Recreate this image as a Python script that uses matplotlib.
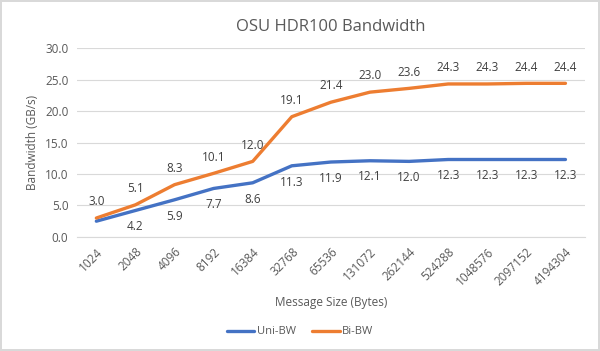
import matplotlib.pyplot as plt

sizes = ['1024', '2048', '4096', '8192', '16384', '32768', '65536', '131072',
         '262144', '524288', '1048576', '2097152', '4194304']
uni_bw = [2.5, 4.2, 5.9, 7.7, 8.6, 11.3, 11.9, 12.1, 12.0, 12.3, 12.3, 12.3, 12.3]
bi_bw = [3.0, 5.1, 8.3, 10.1, 12.0, 19.1, 21.4, 23.0, 23.6, 24.3, 24.3, 24.4, 24.4]
uni_labels = [None, '4.2', '5.9', '7.7', '8.6', '11.3', '11.9', '12.1', '12.0',
              '12.3', '12.3', '12.3', '12.3']

txt = '#595959'
plt.rcParams['font.family'] = ['Open Sans', 'DejaVu Sans']

fig = plt.figure(figsize=(6, 3.51), dpi=100)
fig.patch.set_edgecolor('#d9d9d9')
fig.patch.set_linewidth(1.5)
ax = fig.add_axes([0.128, 0.325, 0.847, 0.538])

x = list(range(len(sizes)))
ax.plot(x, uni_bw, color='#4472C4', lw=2.4, label='Uni-BW', solid_capstyle='round')
ax.plot(x, bi_bw, color='#ED7D31', lw=2.4, label='Bi-BW', solid_capstyle='round')

for i in x:
    ax.annotate(f'{bi_bw[i]:.1f}', (i, bi_bw[i]), xytext=(0, 7), textcoords='offset points',
                ha='center', va='bottom', fontsize=8.5, color='#404040')
    if uni_labels[i]:
        ax.annotate(uni_labels[i], (i, uni_bw[i]), xytext=(0, -7), textcoords='offset points',
                    ha='center', va='top', fontsize=8.5, color='#404040')

ax.set_xlim(-0.5, len(sizes) - 0.5)
ax.set_ylim(0, 30)
ax.set_yticks([0, 5, 10, 15, 20, 25, 30])
ax.set_yticklabels([f'{v:.1f}' for v in [0, 5, 10, 15, 20, 25, 30]])
ax.set_xticks(x)
ax.set_xticklabels(sizes, rotation=45, ha='right', rotation_mode='anchor')
ax.tick_params(axis='both', length=0, labelsize=8.5, colors=txt, pad=6)
ax.grid(axis='y', color='#d9d9d9', lw=0.8)
ax.set_axisbelow(True)
for s in ['top', 'right', 'left']:
    ax.spines[s].set_visible(False)
ax.spines['bottom'].set_color('#d9d9d9')

ax.set_title('OSU HDR100 Bandwidth', fontsize=12, color=txt, pad=12)
ax.set_ylabel('Bandwidth (GB/s)', fontsize=8.5, color=txt)
ax.set_xlabel('Message Size (Bytes)', fontsize=8.5, color=txt, labelpad=6)
fig.legend(loc='lower center', bbox_to_anchor=(0.5, 0.01), ncol=2, frameon=False,
           fontsize=8, labelcolor=txt, handlelength=2.5, handletextpad=0.2,
           columnspacing=1.5)

fig.savefig('out.png', dpi=100, edgecolor=fig.get_edgecolor())
